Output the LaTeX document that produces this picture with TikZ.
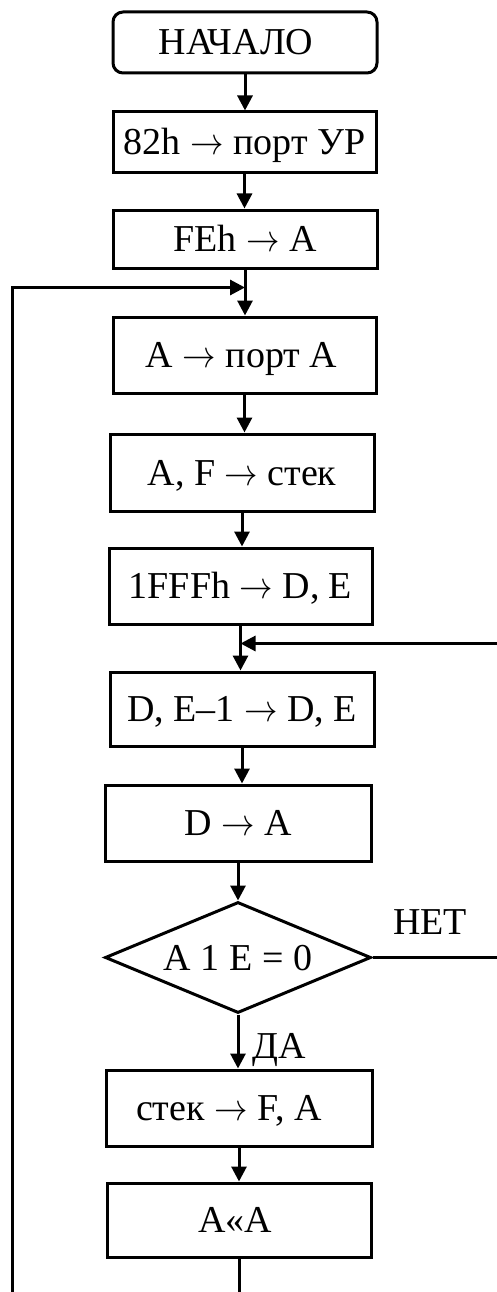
\RequirePackage{fix-cm}
\documentclass[tikz,border=0pt]{standalone}
\usepackage{graphicx}
\usepackage{fontspec}
\setmainfont{Liberation Serif}
\usetikzlibrary{arrows.meta,shapes.geometric}
\newcommand{\ra}{\scalebox{0.88}[1]{$\rightarrow$}}
\newcommand{\padr}[1]{\rule{#1}{0pt}}
\begin{document}
\begin{tikzpicture}[x=1pt,y=-1pt,
  txt/.style={font=\fontsize{38}{45}\selectfont, inner sep=0pt, text height=25pt, text depth=0pt},
  box/.style={txt, draw, line width=3pt, rectangle},
  startbox/.style={box, rounded corners=10pt},
  decision/.style={txt, draw, line width=3pt, diamond, shape aspect=2.4},
  arr/.style={line width=3pt, -{Triangle[length=15pt,width=15pt]}},
  lnk/.style={line width=3pt}]
\useasboundingbox (0,0) rectangle (496,1292);

\node[startbox, minimum width=264pt, minimum height=61pt] (st) at (245,42.5) {НАЧАЛО\padr{18pt}};
\node[box, minimum width=263pt, minimum height=61pt] (b1) at (244.5,142.5) {82h \ra{} порт УР};
\node[box, minimum width=264pt, minimum height=58pt] (b2) at (245,239) {FEh \ra{} A};
\node[box, minimum width=263pt, minimum height=76pt] (b3) at (244.5,355) {A \ra{} порт A\padr{6pt}};
\node[box, minimum width=264pt, minimum height=77pt] (b4) at (242,472.5) {A, F \ra{} стек};
\node[box, minimum width=263pt, minimum height=76pt] (b5) at (240.5,586) {1FFFh \ra{} D, E};
\node[box, minimum width=264pt, minimum height=74pt] (b6) at (242,709) {D, E–1 \ra{} D, E};
\node[box, minimum width=266pt, minimum height=76pt] (b7) at (238,823) {D \ra{} A};
\node[decision, minimum width=266pt, minimum height=111pt] (d) at (238,957.5) {A 1 E = 0};
\node[box, minimum width=266pt, minimum height=76pt] (b8) at (239,1108) {стек \ra{} F, A\padr{20pt}};
\node[box, minimum width=264pt, minimum height=74pt] (b9) at (239,1220) {A«A\padr{8pt}};

\node[txt] (no) at (430,921.5) {НЕТ};
\node[txt] (yes) at (279,1046) {ДА};

\path (b2.south) ++(0,18) coordinate (m1);
\path (b5.south) ++(0,18) coordinate (m2);
\coordinate (lb) at (12,1300);
\coordinate (rx) at (499,0);

\draw[arr] (st.south) -- (st.south |- b1.north);
\draw[arr] (b1.south) -- (b1.south |- b2.north);
\draw[arr] (b2.south) -- (b2.south |- b3.north);
\draw[arr] (b3.south) -- (b3.south |- b4.north);
\draw[arr] (b4.south) -- (b4.south |- b5.north);
\draw[arr] (b5.south) -- (b5.south |- b6.north);
\draw[arr] (b6.south) -- (b6.south |- b7.north);
\draw[arr] (b7.south) -- (b7.south |- d.north);
\draw[arr] (d.south) -- (d.south |- b8.north);
\draw[arr] (b8.south) -- (b8.south |- b9.north);

\draw[arr] (b9.south) |- (lb) |- (m1);
\draw[arr] (d.east) -- (d.east -| rx) |- (m2);
\end{tikzpicture}
\end{document}
